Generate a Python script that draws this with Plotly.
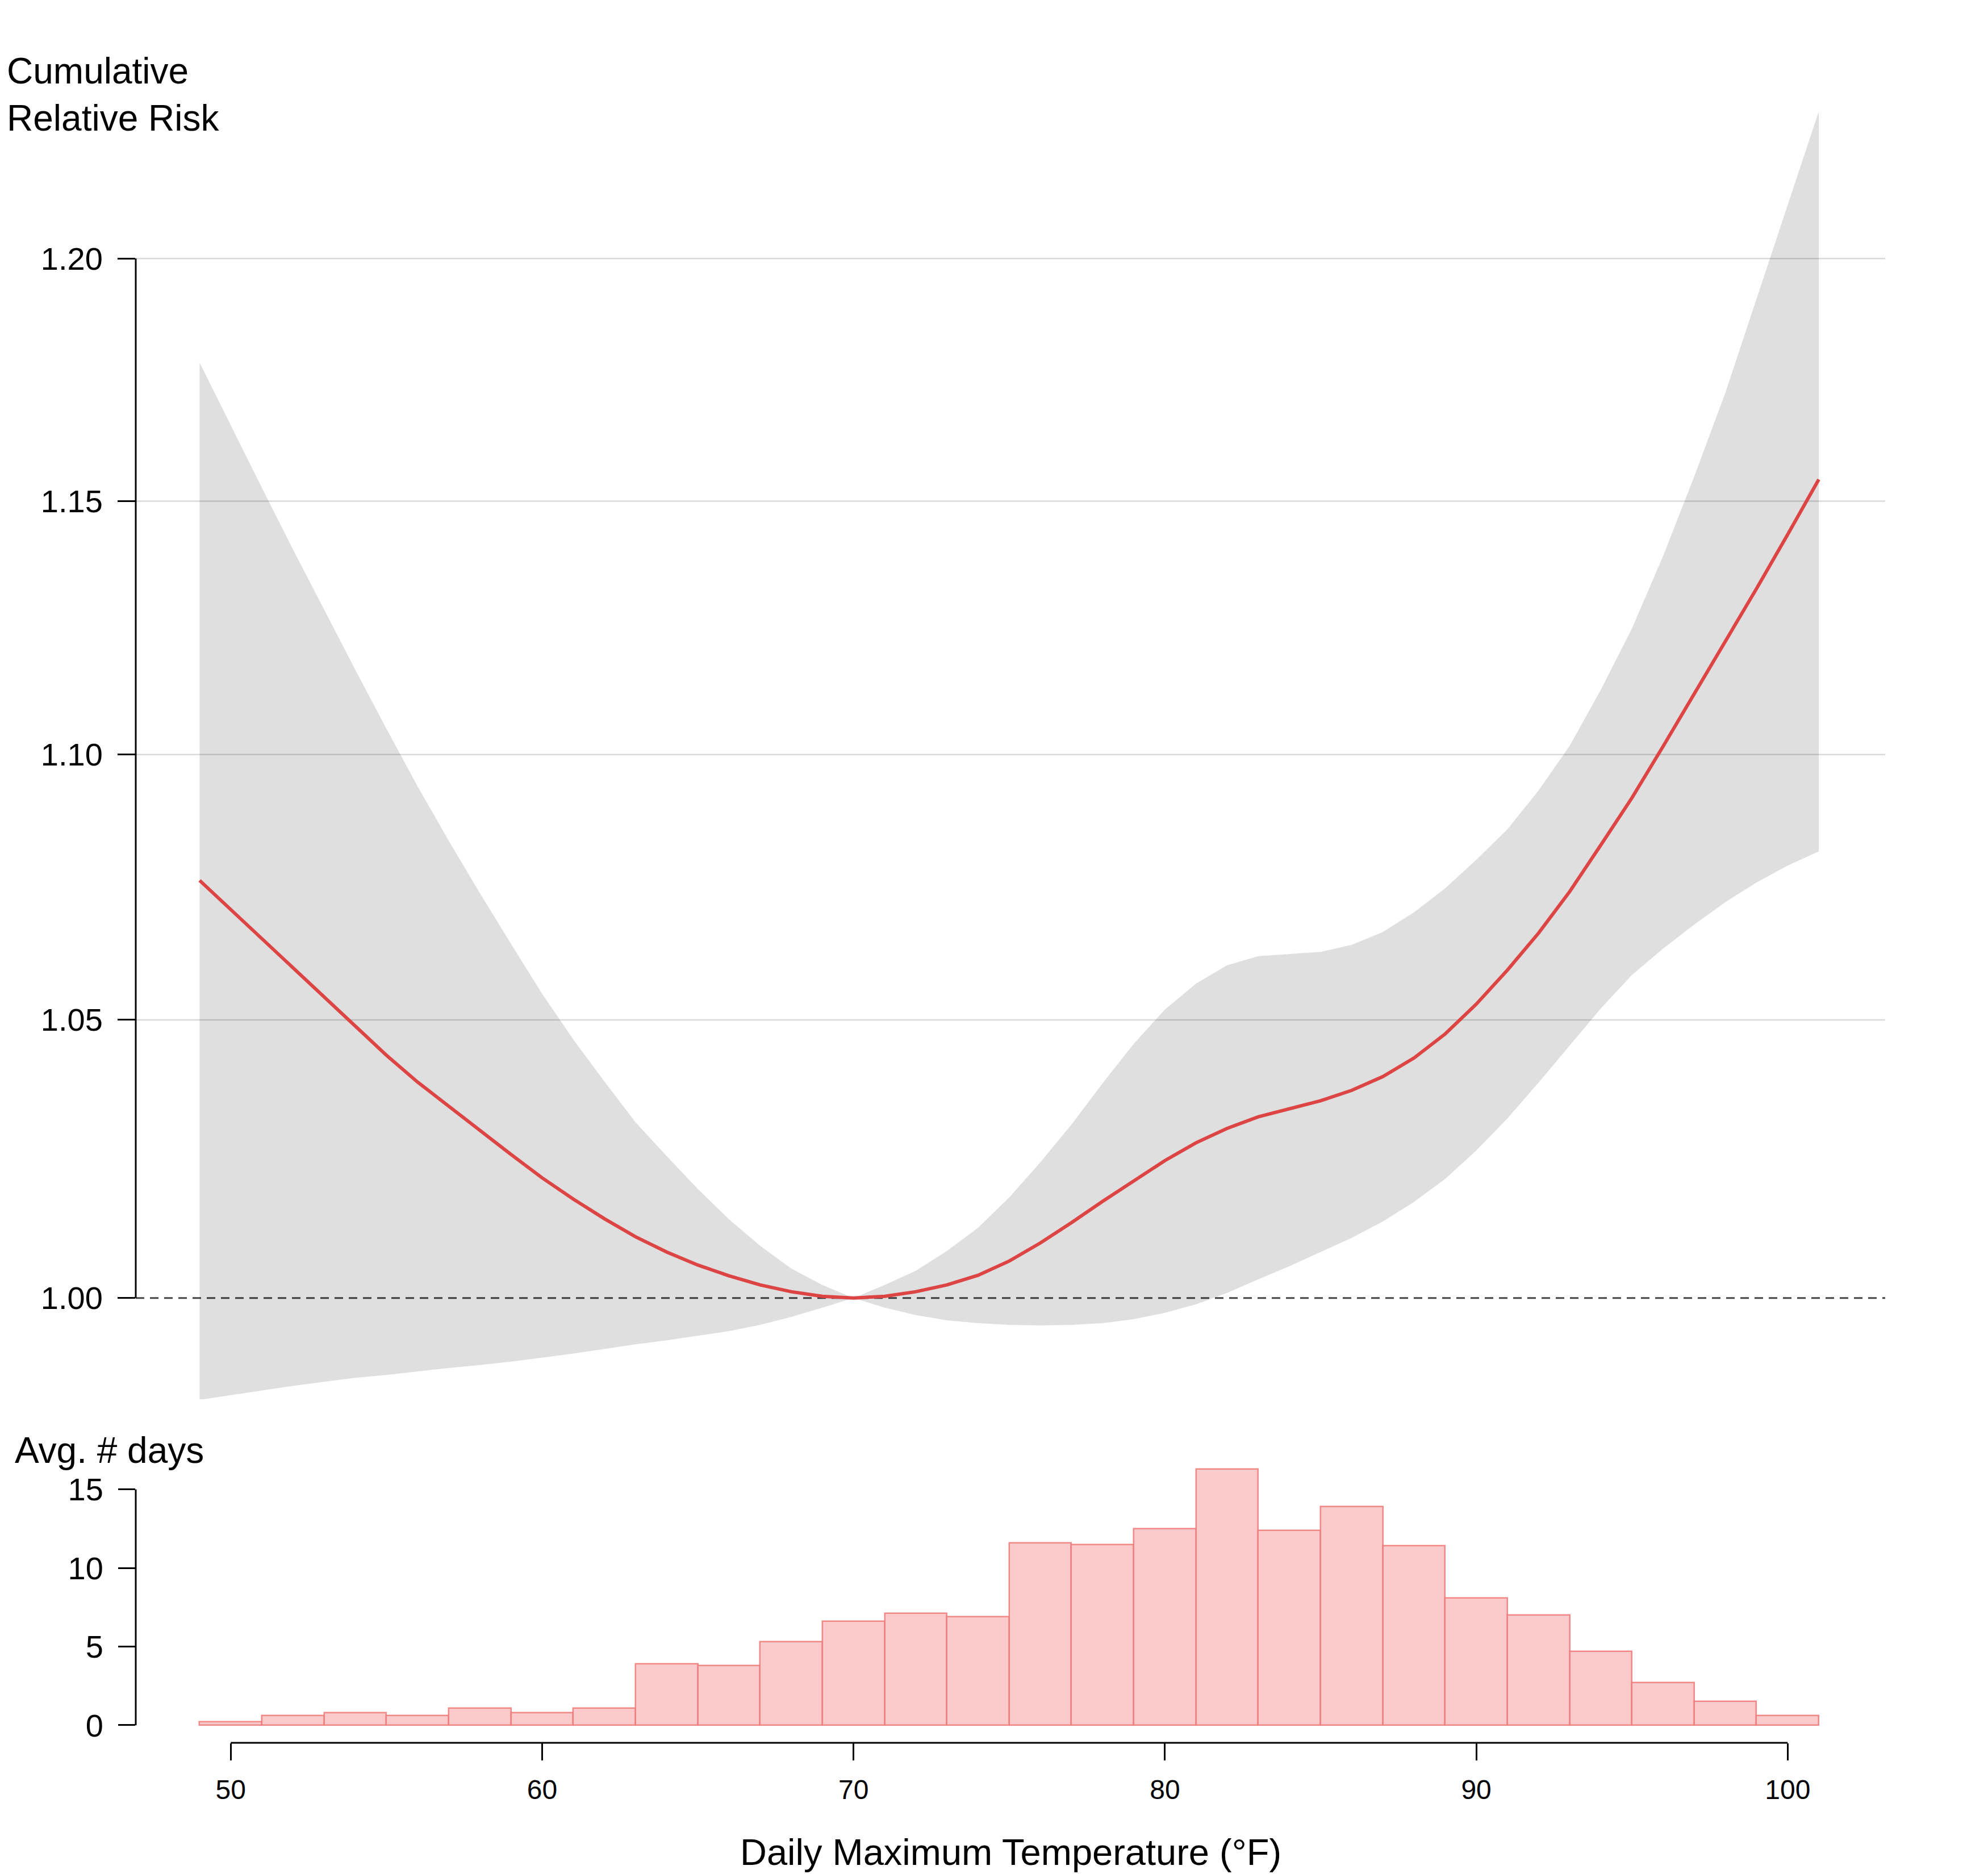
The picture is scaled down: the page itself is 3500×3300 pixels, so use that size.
import plotly.graph_objects as go

# ---------------- data ----------------
temps = [49, 50, 51, 52, 53, 54, 55, 56, 57, 58, 59, 60, 61, 62, 63, 64, 65, 66, 67, 68, 69, 70,
         71, 72, 73, 74, 75, 76, 77, 78, 79, 80, 81, 82, 83, 84, 85, 86, 87, 88, 89, 90,
         91, 92, 93, 94, 95, 96, 97, 98, 99, 100, 101]

rr = [1.0760, 1.0705, 1.0650, 1.0595, 1.0541, 1.0487, 1.0435, 1.0386, 1.0342, 1.0298, 1.0255,
      1.0213, 1.0175, 1.0140, 1.0108, 1.0081, 1.0058, 1.0039, 1.0023, 1.0011, 1.0003, 1.0000,
      1.0003, 1.0011, 1.0023, 1.0040, 1.0065, 1.0097, 1.0133, 1.0171, 1.0207, 1.0244,
      1.0276, 1.0302, 1.0323, 1.0337, 1.0352, 1.0371, 1.0396, 1.0430, 1.0474, 1.0529,
      1.0592, 1.0661, 1.0739, 1.0827, 1.0917, 1.1016, 1.1117, 1.1220, 1.1325, 1.1433, 1.1544]

rr_high = [1.1783, 1.1654, 1.1527, 1.1403, 1.1283, 1.1165, 1.1050, 1.0939, 1.0835, 1.0736, 1.0641,
           1.0548, 1.0464, 1.0387, 1.0313, 1.0252, 1.0193, 1.0139, 1.0092, 1.0052, 1.0023, 1.0000,
           1.0023, 1.0048, 1.0083, 1.0124, 1.0178, 1.0241, 1.0309, 1.0384, 1.0456, 1.0519,
           1.0567, 1.0601, 1.0618, 1.0622, 1.0626, 1.0639, 1.0663, 1.0700, 1.0745, 1.0799,
           1.0857, 1.0931, 1.1017, 1.1126, 1.1246, 1.1390, 1.1550, 1.1721, 1.1915, 1.2112, 1.2314]

rr_low = [0.9823, 0.9831, 0.9839, 0.9847, 0.9854, 0.9861, 0.9866, 0.9872, 0.9878, 0.9883, 0.9889,
          0.9896, 0.9903, 0.9911, 0.9919, 0.9926, 0.9934, 0.9942, 0.9953, 0.9967, 0.9983, 1.0000,
          0.9983, 0.9970, 0.9961, 0.9956, 0.9953, 0.9952, 0.9953, 0.9956, 0.9963, 0.9974,
          0.9989, 1.0009, 1.0033, 1.0056, 1.0081, 1.0106, 1.0135, 1.0170, 1.0211, 1.0262,
          1.0320, 1.0385, 1.0453, 1.0521, 1.0583, 1.0632, 1.0677, 1.0719, 1.0756, 1.0788, 1.0815]

bin_centers = [50, 52, 54, 56, 58, 60, 62, 64, 66, 68, 70, 72, 74, 76, 78, 80, 82, 84, 86, 88,
               90, 92, 94, 96, 98, 100]
avg_days = [0.2, 0.6, 0.8, 0.6, 1.1, 0.8, 1.1, 3.9, 3.8, 5.3, 6.6, 7.1, 6.9, 11.6, 11.5, 12.5,
            16.3, 12.4, 13.9, 11.4, 8.1, 7.0, 4.7, 2.7, 1.5, 0.6]
bin_width = 2

rr_ticks = [1.00, 1.05, 1.10, 1.15, 1.20]
rr_ticktext = ["1.00", "1.05", "1.10", "1.15", "1.20"]
rr_grid = [1.05, 1.10, 1.15, 1.20]
day_ticks = [0, 5, 10, 15]
temp_ticks = [50, 60, 70, 80, 90, 100]

FONT = "Liberation Sans, Arial, Helvetica, sans-serif"
RED = "#DD4444"

fig = go.Figure()

fig.add_trace(go.Scatter(x=temps, y=rr_low, mode="lines", line=dict(width=0),
                         hoverinfo="skip", showlegend=False, xaxis="x", yaxis="y"))
fig.add_trace(go.Scatter(x=temps, y=rr_high, mode="lines", line=dict(width=0),
                         fill="tonexty", fillcolor="rgba(0,0,0,0.125)",
                         hoverinfo="skip", showlegend=False, xaxis="x", yaxis="y"))
fig.add_trace(go.Scatter(x=temps, y=rr, mode="lines", line=dict(color=RED, width=6),
                         showlegend=False, xaxis="x", yaxis="y"))

fig.add_trace(go.Bar(x=bin_centers, y=avg_days, width=bin_width,
                     marker=dict(color="rgba(252,202,202,1)",
                                 line=dict(color="rgba(240,120,120,0.85)", width=2.5)),
                     showlegend=False, xaxis="x2", yaxis="y2"))

shapes = []
for g in rr_grid:
    shapes.append(dict(type="line", xref="x domain", x0=0, x1=1, yref="y", y0=g, y1=g,
                       line=dict(color="#DADADA", width=2.5), layer="below"))
# reference line at RR = 1
shapes.append(dict(type="line", xref="x domain", x0=0, x1=1, yref="y", y0=1.0, y1=1.0,
                   line=dict(color="#444444", width=3, dash="15px,10px"), layer="below"))
# R-style axis lines (span only the tick range)
shapes.append(dict(type="line", xref="x domain", x0=0, x1=0, yref="y",
                   y0=rr_ticks[0], y1=rr_ticks[-1], line=dict(color="black", width=3)))
shapes.append(dict(type="line", xref="x2 domain", x0=0, x1=0, yref="y2",
                   y0=day_ticks[0], y1=day_ticks[-1], line=dict(color="black", width=3)))
shapes.append(dict(type="line", xref="x2", x0=temp_ticks[0], x1=temp_ticks[-1],
                   yref="y2 domain", y0=0, y1=0, line=dict(color="black", width=3)))

xrange = [46.949, 103.132]

fig.update_layout(
    width=3492, height=3292,
    margin=dict(l=231, r=181, t=0, b=0, pad=0),
    plot_bgcolor="white", paper_bgcolor="white",
    font=dict(family=FONT, color="black"),
    showlegend=False, bargap=0,
    shapes=shapes,
    xaxis=dict(domain=[0, 1], anchor="y", range=xrange, showticklabels=False, ticks="",
               showgrid=False, zeroline=False, showline=False),
    yaxis=dict(domain=[0.25395, 0.94481], anchor="x", type="log",
               range=[-0.007713, 0.090673],
               tickvals=rr_ticks, ticktext=rr_ticktext,
               ticks="outside", ticklen=31, tickwidth=3, tickcolor="black",
               tickfont=dict(size=56, family=FONT, color="black"), ticklabelstandoff=15,
               showgrid=False, zeroline=False, showline=False),
    xaxis2=dict(domain=[0, 1], anchor="y2", range=xrange,
                tickvals=temp_ticks, ticktext=[str(t) for t in temp_ticks],
                ticks="outside", ticklen=30, tickwidth=3, tickcolor="black",
                tickfont=dict(size=48, family=FONT, color="black"), ticklabelstandoff=10,
                showgrid=False, zeroline=False, showline=False),
    yaxis2=dict(domain=[0.07017, 0.22175], anchor="x2", range=[-1.1195, 16.901],
                tickvals=day_ticks, ticktext=[str(t) for t in day_ticks],
                ticks="outside", ticklen=30, tickwidth=3, tickcolor="black",
                tickfont=dict(size=56, family=FONT, color="black"), ticklabelstandoff=15,
                showgrid=False, zeroline=False, showline=False),
    annotations=[
        dict(text="Cumulative<br>Relative Risk", xref="paper", yref="paper",
             x=-0.0745, y=0.9520, xanchor="left", yanchor="middle", align="left",
             showarrow=False, font=dict(size=64, family=FONT, color="black")),
        dict(text="Avg. # days", xref="paper", yref="paper",
             x=-0.0698, y=0.2266, xanchor="left", yanchor="middle", align="left",
             showarrow=False, font=dict(size=64, family=FONT, color="black")),
        dict(text="Daily Maximum Temperature (°F)", xref="paper", yref="paper",
             x=0.5, y=0.0118, xanchor="center", yanchor="middle",
             showarrow=False, font=dict(size=65, family=FONT, color="black")),
    ],
)

fig.write_html("out.html")
